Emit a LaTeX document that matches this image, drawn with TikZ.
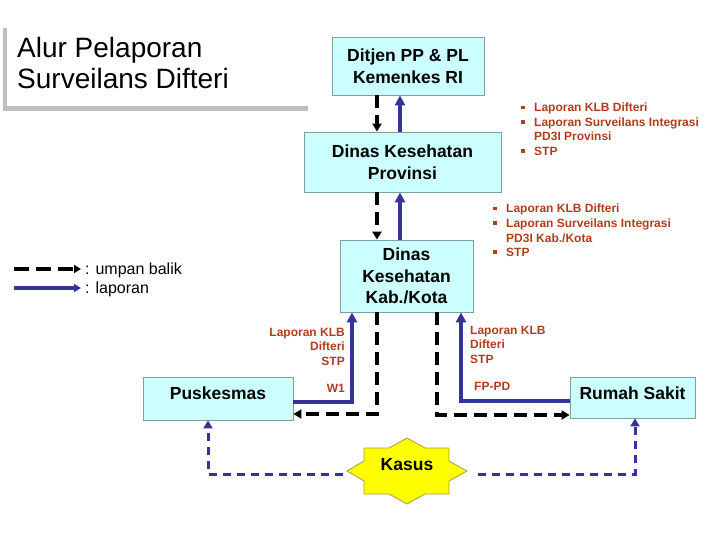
\documentclass[tikz,border=0pt]{standalone}
\usepackage{fontspec}
\setmainfont{Liberation Sans}
\usetikzlibrary{arrows.meta}
\definecolor{boxfill}{HTML}{CCFFFF}
\definecolor{boxline}{HTML}{7F9F9F}
\definecolor{rep}{HTML}{333399}
\definecolor{lbl}{HTML}{B03C1E}
\definecolor{titlebar}{HTML}{BFBFBF}
\definecolor{starfill}{HTML}{FFFF00}
\definecolor{starline}{HTML}{A0A040}
\newcommand\bul{\raisebox{2.5pt}{\rule{3.5pt}{3.5pt}}}
\begin{document}
\begin{tikzpicture}[x=1pt,y=-1pt,
 unit/.style={draw=boxline, line width=0.8pt, fill=boxfill, align=center,
   font=\bfseries\fontsize{17.5}{21.5}\selectfont, inner sep=0pt},
 fb/.style={line width=4pt, dash pattern=on 13pt off 7pt, -{Triangle[length=8pt,width=9pt]}},
 lap/.style={draw=rep, line width=4pt, -{Triangle[length=10pt,width=10pt]}},
 src/.style={draw=rep, line width=3pt, dash pattern=on 8pt off 6pt, -{Triangle[length=8pt,width=9pt]}},
 lab/.style={text=lbl, font=\bfseries\fontsize{12}{14.5}\selectfont, inner sep=0pt},
 legtxt/.style={font=\fontsize{16}{19}\selectfont, inner sep=0pt, anchor=base west},
]
\useasboundingbox (0,0) rectangle (720,540);
% title
\fill[titlebar] (3,28) rectangle (7,111);
\fill[titlebar] (3,106) rectangle (308,111);
\node[anchor=north west, align=left, font=\fontsize{28}{31}\selectfont, inner sep=0pt] (title) at (17,36.6) {Alur Pelaporan\\Surveilans Difteri};
% boxes
\node[unit, minimum width=152pt, minimum height=58pt] (ditjen) at (408,66) {Ditjen PP \& PL\\Kemenkes RI};
\node[unit, minimum width=197pt, minimum height=60pt] (prov) at (402.5,162) {Dinas Kesehatan\\Provinsi};
\node[unit, minimum width=133pt, minimum height=72pt] (kab) at (406.5,276) {Dinas\\Kesehatan\\Kab./Kota};
\node[unit, minimum width=150pt, minimum height=43pt] (pusk) at (218,398.5) {\raisebox{-0.7pt}[0pt][0pt]{Puskesmas}};
\node[unit, minimum width=125pt, minimum height=41pt] (rs) at (632.5,397.5) {\raisebox{-1.7pt}[0pt][0pt]{Rumah Sakit}};
% kasus star
\filldraw[fill=starfill, draw=starline, line width=0.8pt] (407,438) -- (425,448) -- (449,448) -- (449,461) -- (467,471) -- (449,481) -- (449,494) -- (425,494) -- (407,504) -- (389,494) -- (364,494) -- (364,481) -- (347,471) -- (364,461) -- (364,448) -- (389,448) -- cycle;
\node[font=\bfseries\fontsize{17.5}{21}\selectfont, inner sep=0pt] (kasus) at (407,465) {Kasus};
\coordinate (kl) at (343,474);
\coordinate (kr) at (478,474);
% connectors
\draw[fb] (ditjen.south -| 377,0) -- (prov.north -| 377,0);
\draw[lap] (prov.north -| 400,0) -- (ditjen.south -| 400,0);
\draw[fb] (prov.south -| 377,0) -- (kab.north -| 377,0);
\draw[lap] (kab.north -| 400,0) -- (prov.south -| 400,0);
\draw[lap] (pusk.east |- 0,402) -| (kab.south -| 352,0);
\draw[fb] (kab.south -| 377,0) |- (pusk.east |- 0,414);
\draw[fb] (kab.south -| 437,0) |- (rs.west |- 0,415);
\draw[lap] (rs.west |- 0,401) -| (kab.south -| 461,0);
\draw[src] (kl) -| (pusk.south -| 208,0);
\draw[src] (kr) -| (rs.south -| 635,0);
% lists
\node[lab, anchor=base west] (plist) at (521,112) {\begin{tabular}[t]{@{}l@{\hspace{9.5pt}}l@{}}\bul & Laporan KLB Difteri\\ \bul & Laporan Surveilans Integrasi\\ & PD3I Provinsi\\ \bul & STP\end{tabular}};
\node[lab, anchor=base west] (klist) at (493,213) {\begin{tabular}[t]{@{}l@{\hspace{9.5pt}}l@{}}\bul & Laporan KLB Difteri\\ \bul & Laporan Surveilans Integrasi\\ & PD3I Kab./Kota\\ \bul & STP\end{tabular}};
% labels
\node[lab, anchor=base east] (llab) at (345,336) {\begin{tabular}[t]{@{}r@{}}Laporan KLB\\Difteri\\STP\end{tabular}};
\node[lab, anchor=base east] (w1) at (345,392) {W1};
\node[lab, anchor=base west] (rlab) at (470,334) {\begin{tabular}[t]{@{}l@{}}Laporan KLB\\Difteri\\STP\end{tabular}};
\node[lab, anchor=base west] (fppd) at (474,390) {FP-PD};
% legend
\coordinate (lg1a) at (14,269);
\coordinate (lg1b) at (81,269);
\coordinate (lg2a) at (14,288);
\coordinate (lg2b) at (81,288);
\draw[line width=4pt, dash pattern=on 15pt off 7pt, -{Triangle[length=7pt,width=8pt]}] (lg1a) -- (lg1b);
\draw[draw=rep, line width=4pt, -{Triangle[length=7pt,width=8pt]}] (lg2a) -- (lg2b);
\node[legtxt] (lt1) at (85,274) {: umpan balik};
\node[legtxt] (lt2) at (85,293) {: laporan};
\end{tikzpicture}
\end{document}
